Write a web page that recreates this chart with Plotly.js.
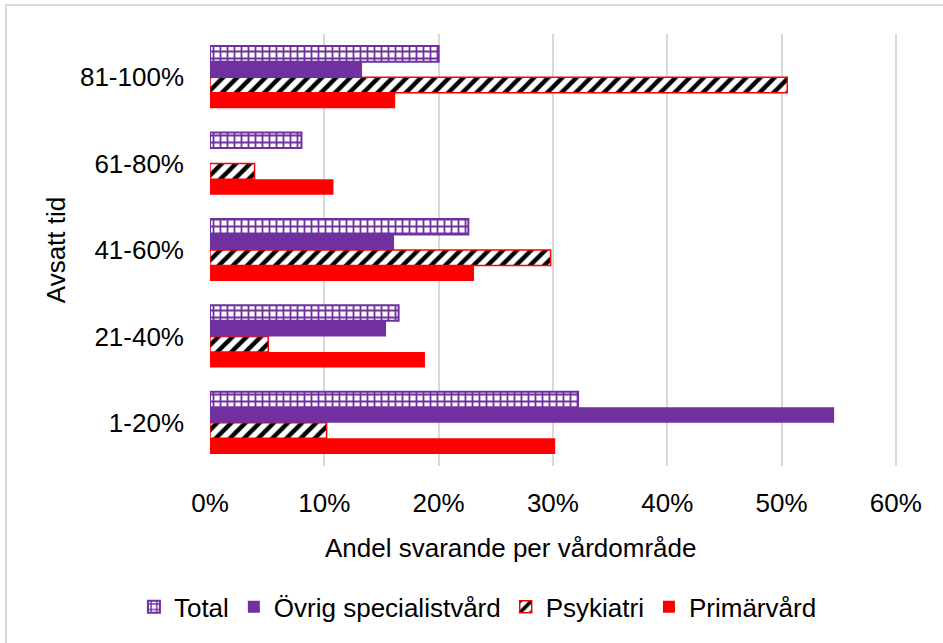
<!DOCTYPE html>
<html>
<head>
<meta charset="utf-8">
<script src="https://cdn.plot.ly/plotly-3.0.1.min.js"></script>
<style>
html,body{margin:0;padding:0;background:#fff;width:943px;height:643px;overflow:hidden;}
#frame{position:absolute;left:5px;top:4px;width:960px;height:660px;border:2px solid #d9d9d9;box-sizing:border-box;}
#chart{position:absolute;left:0;top:0;width:943px;height:643px;}
</style>
</head>
<body>
<div id="frame"></div>
<div id="chart"></div>
<script>
const categories = ['1-20%', '21-40%', '41-60%', '61-80%', '81-100%'];
const total = [32.2, 16.5, 22.6, 8.0, 20.0];
const ovrigSpecialistvard = [54.6, 15.4, 16.1, 0, 13.3];
const psykiatri = [10.2, 5.1, 29.8, 3.9, 50.5];
const primarvard = [30.2, 18.8, 23.1, 10.8, 16.2];
const seriesNames = ['Total', 'Övrig specialistvård', 'Psykiatri', 'Primärvård'];
const xTitle = 'Andel svarande per vårdområde';
const yTitle = 'Avsatt tid';

const PURPLE = '#7030A0';
const RED = '#FF0000';
const FONT = 'Liberation Sans, Arial, sans-serif';
const FS = 26;

const traces = [
  {
    type: 'bar', orientation: 'h', name: seriesNames[3],
    y: categories, x: primarvard,
    marker: {color: RED, line: {width: 0}}
  },
  {
    type: 'bar', orientation: 'h', name: seriesNames[2],
    y: categories, x: psykiatri,
    marker: {
      color: '#000000',
      line: {color: RED, width: 1.5},
      pattern: {shape: '/', fgcolor: '#000000', bgcolor: '#ffffff', size: 10, solidity: 0.45, fillmode: 'replace'}
    }
  },
  {
    type: 'bar', orientation: 'h', name: seriesNames[1],
    y: categories, x: ovrigSpecialistvard,
    marker: {color: PURPLE, line: {width: 0}}
  },
  {
    type: 'bar', orientation: 'h', name: seriesNames[0],
    y: categories, x: total,
    marker: {
      color: PURPLE,
      line: {color: PURPLE, width: 2},
      pattern: {shape: '+', fgcolor: PURPLE, bgcolor: '#ffffff', size: 7, solidity: 0.45, fillmode: 'replace'}
    }
  }
];

const layout = {
  width: 943, height: 643,
  paper_bgcolor: 'rgba(0,0,0,0)',
  plot_bgcolor: 'rgba(0,0,0,0)',
  margin: {l: 210, r: 46, t: 34, b: 177},
  barmode: 'group',
  bargap: 0.28,
  bargroupgap: 0,
  font: {family: FONT, size: FS, color: '#000000'},
  xaxis: {
    range: [0, 60.1],
    dtick: 10,
    tick0: 0,
    ticksuffix: '%',
    showgrid: true,
    gridcolor: '#d9d9d9',
    gridwidth: 2,
    zeroline: false,
    showline: false,
    ticks: '',
    ticklabelstandoff: 19,
    tickfont: {family: FONT, size: FS, color: '#000000'}
  },
  yaxis: {
    type: 'category',
    categoryorder: 'array',
    categoryarray: categories,
    showgrid: false,
    zeroline: false,
    showline: false,
    ticks: '',
    ticklabelstandoff: 25,
    tickfont: {family: FONT, size: FS, color: '#000000'},
    title: {text: yTitle, font: {family: FONT, size: FS, color: '#000000'}, standoff: 6}
  },
  annotations: [{
    text: xTitle,
    xref: 'paper', yref: 'paper',
    x: 0.438, y: -0.19,
    xanchor: 'center', yanchor: 'middle',
    showarrow: false,
    font: {family: FONT, size: FS, color: '#000000'}
  }],
  legend: {
    orientation: 'h',
    traceorder: 'reversed',
    xref: 'paper',
    x: 0.39, xanchor: 'center',
    y: -0.326, yanchor: 'middle',
    font: {family: FONT, size: FS, color: '#000000'},
    itemwidth: 30,
    bgcolor: 'rgba(0,0,0,0)'
  },
  showlegend: true
};

Plotly.newPlot('chart', traces, layout, {displayModeBar: false, staticPlot: true});
</script>
</body>
</html>
